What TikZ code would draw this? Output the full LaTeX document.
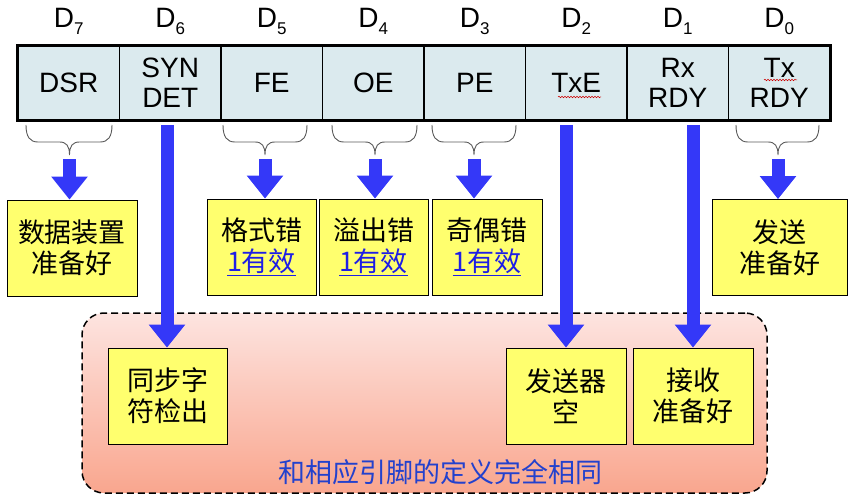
\documentclass[tikz,border=0pt]{standalone}
\usepackage{fontspec}
\setmainfont{Liberation Sans}
\newfontfamily\cjk{Noto Sans CJK SC}
\usetikzlibrary{arrows.meta,decorations.pathmorphing}
\definecolor{regfill}{RGB}{219,234,238}
\definecolor{boxyellow}{RGB}{255,255,110}
\definecolor{arrowblue}{RGB}{52,56,248}
\definecolor{linkblue}{RGB}{30,30,230}
\definecolor{noteblue}{RGB}{35,65,205}
\definecolor{pinktop}{RGB}{253,228,224}
\definecolor{pinkbot}{RGB}{249,166,142}
\definecolor{bracegray}{RGB}{90,90,90}
\newcommand\ubrace[4]{%
  \draw[bracestyle] (#1,125) .. controls (#1,137) and (#1+4,142) .. (#1+12,142)
    -- (#3-10,142) .. controls (#3-3,142) and (#3,146) .. (#3,155)
    .. controls (#3,146) and (#3+3,142) .. (#3+10,142)
    -- (#2-12,142) .. controls (#2-4,142) and (#2,137) .. (#2,125);
  \coordinate (#4) at (#3,159);}
\newcommand\lnk[1]{\textcolor{linkblue}{\underline{#1}}}
\newcommand\bitD[1]{D\raisebox{-7pt}{\fontsize{17}{17}\selectfont #1}}
\begin{document}
\begin{tikzpicture}[x=1pt,y=-1pt,
  cell/.style={draw=black, line width=1.2pt, fill=regfill, minimum width=101.5pt,
    minimum height=74pt, inner sep=0pt, align=center, font=\fontsize{28}{30}\selectfont},
  bitlabel/.style={font=\fontsize{28}{30}\selectfont, inner sep=0pt, anchor=base},
  ybox/.style={draw=black, line width=0.8pt, fill=boxyellow, inner sep=0pt, align=center,
    minimum height=96pt, font=\cjk\fontsize{27}{31}\selectfont},
  blk/.style={arrowblue, line width=13pt, -{Triangle[width=35pt,length=23pt]}},
  bracestyle/.style={draw=bracegray, line width=0.9pt},
  region/.style={draw=black, dashed, dash pattern=on 7pt off 4pt, line width=1.5pt,
    rounded corners=22pt, top color=pinktop, bottom color=pinkbot, inner sep=0pt},
  squig/.style={draw=red!80!black, line width=0.5pt, decorate,
    decoration={snake, amplitude=0.8pt, segment length=3pt}},
]
\useasboundingbox (0,0) rectangle (855,503);

% pink region
\node[region, minimum width=685pt, minimum height=180pt] (region) at (424.5,403) {};

% register cells
\node[cell] (c7) at (68.75,83) {DSR};
\node[cell] (c6) at (170.25,83) {SYN\\DET};
\node[cell] (c5) at (271.75,83) {FE};
\node[cell] (c4) at (373.25,83) {OE};
\node[cell] (c3) at (474.75,83) {PE};
\node[cell] (c2) at (576.25,83) {TxE};
\node[cell] (c1) at (677.75,83) {Rx\\RDY};
\node[cell] (c0) at (779.25,83) {Tx\\RDY};
\draw[line width=3pt] (c7.north west) rectangle (c0.south east);

% spell-check squiggles
\draw[squig] (558,97) -- (601,97);
\draw[squig] (764,80) -- (797,80);

% bit labels
\node[bitlabel] (d7) at (68.75,28) {\bitD{7}};
\node[bitlabel] (d6) at (170.25,28) {\bitD{6}};
\node[bitlabel] (d5) at (271.75,28) {\bitD{5}};
\node[bitlabel] (d4) at (373.25,28) {\bitD{4}};
\node[bitlabel] (d3) at (474.75,28) {\bitD{3}};
\node[bitlabel] (d2) at (576.25,28) {\bitD{2}};
\node[bitlabel] (d1) at (677.75,28) {\bitD{1}};
\node[bitlabel] (d0) at (779.25,28) {\bitD{0}};

% braces
\ubrace{26}{112}{69.5}{b7}
\ubrace{223}{307}{265}{b5}
\ubrace{332}{417}{375}{b4}
\ubrace{432}{516}{474}{b3}
\ubrace{736}{819}{778}{b0}

% start points of long arrows
\coordinate (s6) at (167,125);
\coordinate (s2) at (566,125);
\coordinate (s1) at (693,125);

% yellow boxes
\node[ybox, minimum width=130pt] (box7) at (72,248) {数据装置\\准备好};
\node[ybox, minimum width=109pt] (box5) at (261.5,247) {格式错\\\lnk{1有效}};
\node[ybox, minimum width=109pt] (box4) at (373.5,247) {溢出错\\\lnk{1有效}};
\node[ybox, minimum width=110pt] (box3) at (487,247) {奇偶错\\\lnk{1有效}};
\node[ybox, minimum width=135pt] (box0) at (779.5,247.5) {发送\\准备好};
\node[ybox, minimum width=119pt] (box6) at (167.5,396) {同步字\\符检出};
\node[ybox, minimum width=120pt] (box2) at (566,396) {发送器\\空};
\node[ybox, minimum width=120pt] (box1) at (693,396) {接收\\准备好};

% arrows
\draw[blk] (b7) -- (b7 |- box7.north);
\draw[blk] (b5) -- (b5 |- box5.north);
\draw[blk] (b4) -- (b4 |- box4.north);
\draw[blk] (b3) -- (b3 |- box3.north);
\draw[blk] (b0) -- (b0 |- box0.north);
\draw[blk] (s6) -- (s6 |- box6.north);
\draw[blk] (s2) -- (s2 |- box2.north);
\draw[blk] (s1) -- (s1 |- box1.north);

% note
\node[font=\cjk\fontsize{27}{27}\selectfont, text=noteblue, inner sep=0pt] (note) at (440,472) {和相应引脚的定义完全相同};
\end{tikzpicture}
\end{document}
